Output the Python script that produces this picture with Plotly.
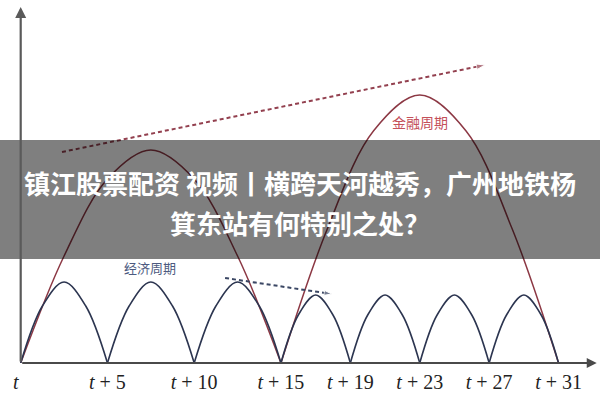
import plotly.graph_objects as go

# ---- data ----
tick_vals = [0, 5, 10, 15, 19, 23, 27, 31]
tick_text = ["<i>t</i>&nbsp;&nbsp;", "<i>t</i> + 5", "<i>t</i> + 10", "<i>t</i> + 15",
             "<i>t</i> + 19", "<i>t</i> + 23", "<i>t</i> + 27", "<i>t</i> + 31"]

# financial cycle (金融周期): two long arches
fin_u = [[0, 2.5, 5, 7.5, 10, 12.5, 15],
         [15, 17.67, 20.33, 23, 25.67, 28.33, 31]]
fin_h = [[0, 107, 184, 213, 184, 107, 0],
         [0, 134, 232, 268, 232, 134, 0]]

# economic cycle (经济周期): seven short arches
econ_u = [[0, 1.25, 2.5, 3.75, 5],
          [5, 6.25, 7.5, 8.75, 10],
          [10, 11.25, 12.5, 13.75, 15],
          [15, 16, 17, 18, 19],
          [19, 20, 21, 22, 23],
          [23, 24, 25, 26, 27],
          [27, 28, 29, 30, 31]]
econ_h = [[0, 57, 81, 57, 0],
          [0, 57, 81, 57, 0],
          [0, 57, 81, 57, 0],
          [0, 48, 68, 48, 0],
          [0, 48, 68, 48, 0],
          [0, 48, 68, 48, 0],
          [0, 48, 68, 48, 0]]

# trend arrows
fin_trend_u = [2.38, 26.76]
fin_trend_h = [211, 298]
econ_trend_u = [11.78, 17.93]
econ_trend_h = [85, 69]

title_lines = ["镇江股票配资 视频丨横跨天河越秀，广州地铁杨", "箕东站有何特别之处？"]

RED = "#8c3844"
NAVY = "#2c3550"

fig = go.Figure()

def join(segs):
    out = []
    for s in segs:
        out += list(s) + [None]
    return out

fig.add_trace(go.Scatter(x=join(fin_u), y=join(fin_h), mode="lines",
                         line=dict(color=RED, width=1.5, shape="spline", smoothing=1.0),
                         hoverinfo="skip", showlegend=False))
fig.add_trace(go.Scatter(x=join(econ_u), y=join(econ_h), mode="lines",
                         line=dict(color=NAVY, width=1.6, shape="spline", smoothing=1.0),
                         hoverinfo="skip", showlegend=False))

fig.add_trace(go.Scatter(x=fin_trend_u, y=fin_trend_h, mode="lines+markers",
                         line=dict(color="#93404f", width=2, dash="4px,3px"),
                         marker=dict(symbol="arrow", angleref="previous", size=[0, 9],
                                     color="#93404f"),
                         hoverinfo="skip", showlegend=False))
fig.add_trace(go.Scatter(x=econ_trend_u, y=econ_trend_h, mode="lines+markers",
                         line=dict(color="#3b4764", width=2, dash="4px,3px"),
                         marker=dict(symbol="arrow", angleref="previous", size=[0, 8],
                                     color="#3b4764"),
                         hoverinfo="skip", showlegend=False))

# axes with arrows
fig.add_annotation(x=33.2, y=0, ax=0, ay=0, xref="x", yref="y", axref="x", ayref="y",
                   showarrow=True, arrowhead=2, arrowsize=1, arrowwidth=2, arrowcolor="#4a4a4a", text="")
fig.add_annotation(x=0, y=356, ax=0, ay=0, xref="x", yref="y", axref="x", ayref="y",
                   showarrow=True, arrowhead=2, arrowsize=1, arrowwidth=2.2, arrowcolor="#5a5a5a", text="")

# cycle labels
fig.add_annotation(x=23, y=241, xref="x", yref="y", text="金融周期", showarrow=False,
                   font=dict(family="Noto Sans CJK SC", size=14, color="#c4505a"))
fig.add_annotation(x=7.45, y=96, xref="x", yref="y", text="经济周期", showarrow=False,
                   font=dict(family="Noto Sans CJK SC", size=13, color="#4d5a80"))

# grey banner overlay
fig.add_shape(type="rect", xref="paper", yref="y", x0=0, x1=1, y0=104, y1=223,
              fillcolor="rgba(0,0,0,0.5)", line=dict(width=0), layer="above")
fig.add_annotation(x=0.5, y=181, xref="paper", yref="y", text=title_lines[0], showarrow=False,
                   font=dict(family="Noto Sans CJK SC", size=26, color="white", weight="bold"))
fig.add_annotation(x=0.5, y=141, xref="paper", yref="y", text=title_lines[1], showarrow=False,
                   font=dict(family="Noto Sans CJK SC", size=26, color="white", weight="bold"))

fig.update_layout(
    width=600, height=400,
    margin=dict(l=0, r=0, t=0, b=37, autoexpand=False),
    paper_bgcolor="white", plot_bgcolor="white",
    xaxis=dict(range=[-20.7 / 17.35, (600 - 20.7) / 17.35], showgrid=False, zeroline=False,
               showline=False, ticks="", tickvals=tick_vals, ticktext=tick_text,
               tickfont=dict(family="Liberation Serif", size=20, color="#222"),
               ticklabelstandoff=5, automargin=False, fixedrange=True),
    yaxis=dict(range=[0, 363], visible=False, fixedrange=True, automargin=False),
)

fig.write_html("out.html", config={"displayModeBar": False},
               post_script="document.body.style.margin='0';document.body.style.overflow='hidden';")
